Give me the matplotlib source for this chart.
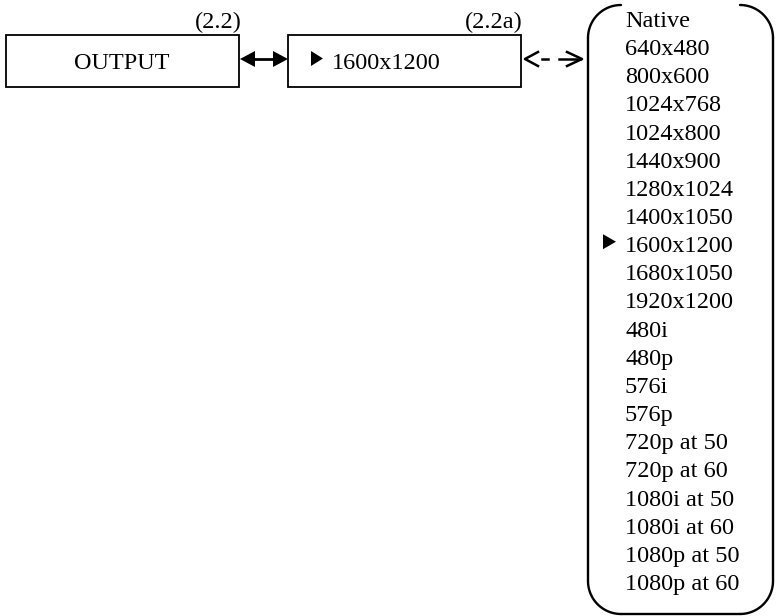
import numpy as np
import matplotlib.pyplot as plt
from matplotlib.patches import Rectangle, Polygon

# ── Contenido del menú ──────────────────────────────────────────────────────
MAIN_LABEL = "OUTPUT"
MAIN_TAG = "(2.2)"
SUB_LABEL = "1600x1200"
SUB_TAG = "(2.2a)"
OPTIONS = ["Native", "640x480", "800x600", "1024x768", "1024x800", "1440x900",
           "1280x1024", "1400x1050", "1600x1200", "1680x1050", "1920x1200",
           "480i", "480p", "576i", "576p", "720p at 50", "720p at 60",
           "1080i at 50", "1080i at 60", "1080p at 50", "1080p at 60"]
SELECTED = "1600x1200"

FONT = dict(family="Liberation Serif", fontsize=17.5, color="black")

# ── Figura (coordenadas en píxeles) ────────────────────────────────────────
fig = plt.figure(figsize=(7.77, 6.16), dpi=100)
ax = fig.add_axes([0, 0, 1, 1])
ax.set_xlim(0, 777)
ax.set_ylim(616, 0)
ax.axis("off")


def tri(x, y, w=12, h=15):
    ax.add_patch(Polygon([(x, y - h / 2), (x, y + h / 2), (x + w, y)],
                         closed=True, fc="black", ec="none"))


# Caja principal
ax.add_patch(Rectangle((6, 35), 233, 52, fill=False, lw=1.3, ec="black"))
ax.text(122, 69, MAIN_LABEL, ha="center", va="baseline", **FONT)
ax.text(242, 28, MAIN_TAG, ha="right", va="baseline", **FONT)

# Caja del submenú
ax.add_patch(Rectangle((288, 35), 233, 52, fill=False, lw=1.3, ec="black"))
tri(311, 58.5)
ax.text(332, 69, SUB_LABEL, ha="left", va="baseline", **FONT)
ax.text(523, 28, SUB_TAG, ha="right", va="baseline", **FONT)

# Flecha doble sólida
ax.plot([250, 278], [59, 59], color="black", lw=2)
ax.add_patch(Polygon([(240, 59), (255, 51), (255, 67)], fc="black", ec="none"))
ax.add_patch(Polygon([(288, 59), (273, 51), (273, 67)], fc="black", ec="none"))

# Flecha doble discontinua
kw = dict(color="black", lw=1.8)
ax.plot([538, 525, 538], [52, 59, 66], **kw)
ax.plot([542, 548], [59, 59], **kw)
ax.plot([559, 580], [59, 59], **kw)
ax.plot([567, 582, 567], [52, 59, 66], **kw)

# Corchete redondeado con las opciones
L, R, T, B, r = 588, 773, 5, 614, 33
t = np.linspace(0, np.pi / 2, 40)
kw = dict(color="black", lw=1.7, solid_capstyle="round")
ax.plot(L + r - r * np.sin(t), T + r - r * np.cos(t), **kw)
ax.plot(R - r + r * np.sin(t), T + r - r * np.cos(t), **kw)
ax.plot(L + r - r * np.sin(t), B - r + r * np.cos(t), **kw)
ax.plot(R - r + r * np.sin(t), B - r + r * np.cos(t), **kw)
ax.plot([L, L], [T + r, B - r], **kw)
ax.plot([R, R], [T + r, B - r], **kw)
ax.plot([L + r, R - r], [B, B], **kw)

y0, dy = 27, 28.15
for i, opt in enumerate(OPTIONS):
    yb = y0 + i * dy
    ax.text(625, yb, opt, ha="left", va="baseline", **FONT)
    if opt == SELECTED:
        tri(603, yb - 10.5, w=13, h=15)

fig.savefig("out.png", dpi=100)
